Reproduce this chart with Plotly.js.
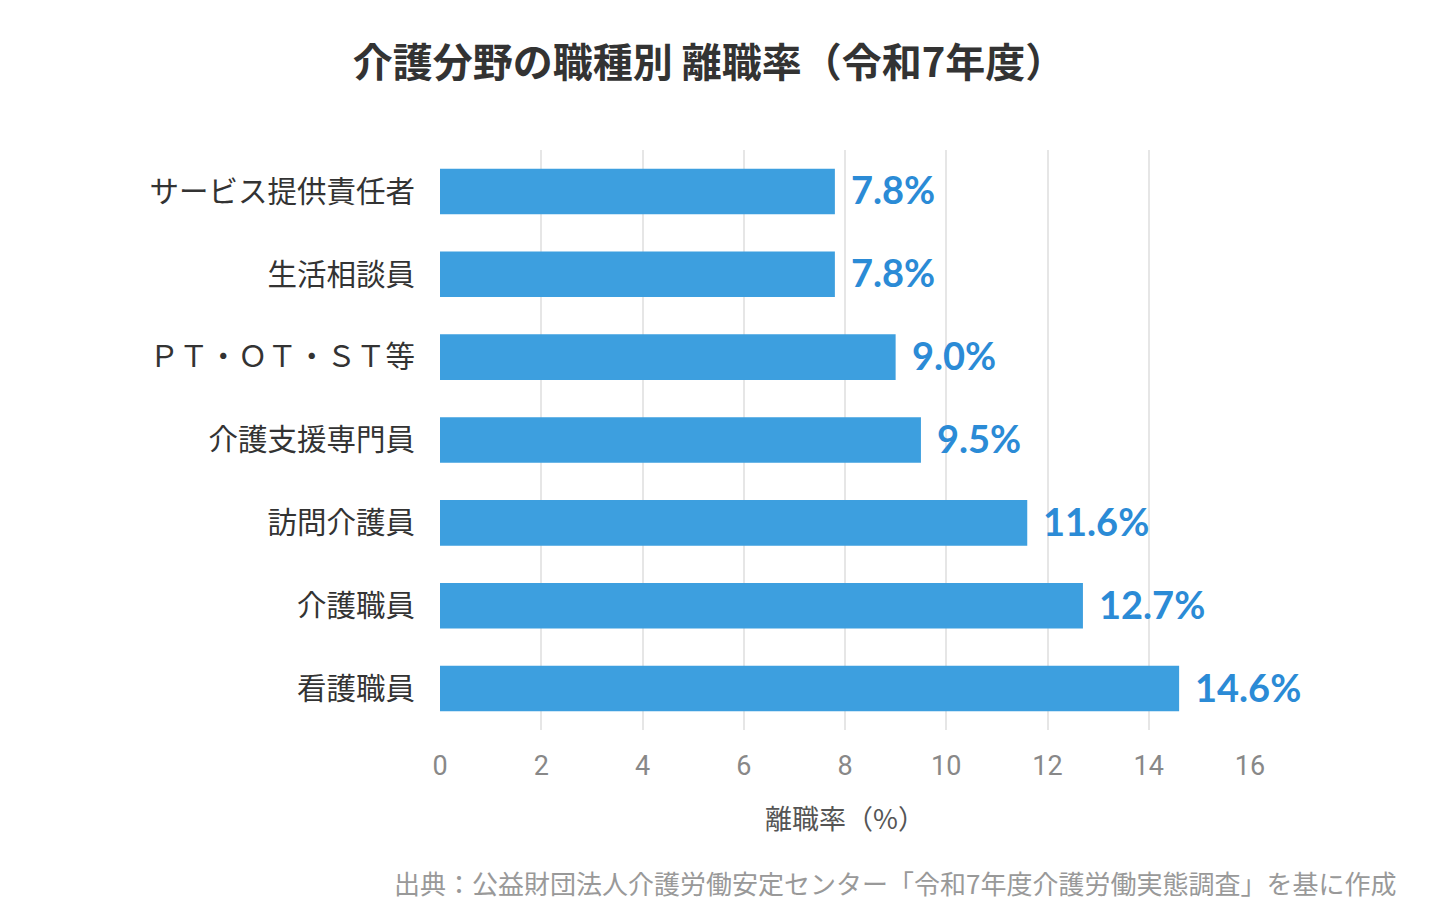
<!DOCTYPE html>
<html>
<head>
<meta charset="utf-8">
<script src="https://cdn.plot.ly/plotly-3.0.1.min.js"></script>
<style>html,body{margin:0;padding:0;background:#fff;}#chart{width:1440px;height:920px;}</style>
</head>
<body>
<div id="chart"></div>
<script>
const categories = ["サービス提供責任者", "生活相談員", "ＰＴ・ＯＴ・ＳＴ等", "介護支援専門員", "訪問介護員", "介護職員", "看護職員"];
const rates = [7.8, 7.8, 9.0, 9.5, 11.6, 12.7, 14.6];
const xTicks = [0, 2, 4, 6, 8, 10, 12, 14, 16];
const titleText = "介護分野の職種別 離職率（令和7年度）";
const xTitleText = "離職率（%）";
const sourceText = "出典：公益財団法人介護労働安定センター「令和7年度介護労働実態調査」を基に作成";

const JP = '"Noto Sans CJK JP", "Noto Sans", sans-serif';

const trace = {
  type: 'bar',
  orientation: 'h',
  x: rates,
  y: categories,
  marker: {color: '#3d9fdf'},
  hoverinfo: 'none'
};

const valueAnnotations = categories.map((c, i) => ({
  x: rates[i], y: c, xref: 'x', yref: 'y',
  text: rates[i].toFixed(1) + '%',
  showarrow: false, xanchor: 'left', yanchor: 'middle', xshift: 14, yshift: 2,
  font: {family: 'Lato, "Noto Sans", sans-serif', size: 38, color: '#2b8bd6', weight: 'bold'}
}));

const layout = {
  width: 1440, height: 920,
  paper_bgcolor: '#ffffff', plot_bgcolor: '#ffffff',
  margin: {l: 440, r: 190, t: 150, b: 190},
  bargap: 0.45,
  showlegend: false,
  title: {
    text: '<b>' + titleText + '</b>',
    xref: 'container', x: 709/1440, xanchor: 'center',
    yref: 'container', y: 1 - 63/920, yanchor: 'middle',
    font: {family: JP, size: 40, color: '#333333'}
  },
  xaxis: {
    range: [0, 16],
    tickvals: xTicks,
    ticktext: xTicks.map(String),
    showgrid: true, gridcolor: '#e6e6e6', gridwidth: 2,
    zeroline: false, showline: false,
    ticks: 'outside', ticklen: 12, tickcolor: 'rgba(0,0,0,0)',
    tickfont: {family: 'Roboto, "Noto Sans", sans-serif', size: 27, color: '#888888'},
    title: {text: xTitleText, standoff: 28, font: {family: JP, size: 27, color: '#555555'}},
    fixedrange: true
  },
  yaxis: {
    autorange: 'reversed',
    showgrid: false, zeroline: false, showline: false,
    ticks: 'outside', ticklen: 18, tickcolor: 'rgba(0,0,0,0)',
    tickfont: {family: JP, size: 29.5, color: '#333333'},
    fixedrange: true
  },
  annotations: valueAnnotations.concat([{
    text: sourceText, xref: 'paper', yref: 'paper',
    x: (1398 - 440) / 810, y: (730 - 882) / 580,
    xanchor: 'right', yanchor: 'middle', showarrow: false,
    font: {family: JP, size: 26, color: '#999999'}
  }])
};

Plotly.newPlot('chart', [trace], layout, {displayModeBar: false, staticPlot: true});
</script>
</body>
</html>
